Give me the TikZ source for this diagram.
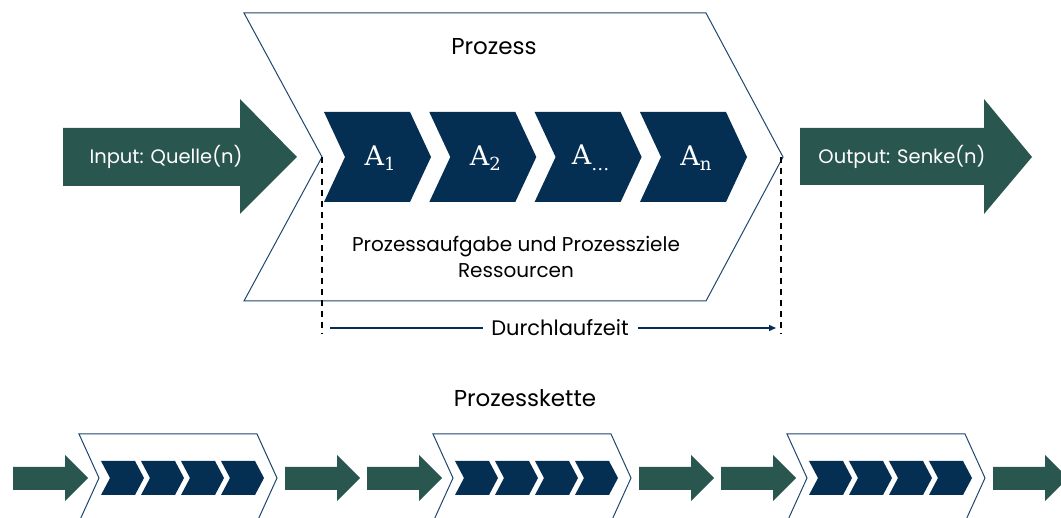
\documentclass[tikz,border=0pt]{standalone}
\usepackage{fontspec}
\setmainfont{Poppins}
\newfontfamily\slabfont{DejaVu Serif}
\usetikzlibrary{arrows.meta}
\definecolor{pgreen}{RGB}{42,86,80}
\definecolor{pnavy}{RGB}{4,46,82}
\definecolor{pline}{RGB}{31,72,112}
\tikzset{
  greenarrow/.style={fill=pgreen,draw=none},
  navybox/.style={fill=pnavy,draw=none},
  procoutline/.style={draw=pline,line width=1pt,fill=white},
  lbl/.style={inner sep=0pt,font=\fontsize{20}{24}\selectfont},
  biglbl/.style={inner sep=0pt,font=\fontsize{23}{26}\selectfont},
  wlbl/.style={inner sep=0pt,text=white,font=\fontsize{19.5}{22}\selectfont},
  alabel/.style={inner sep=0pt,text=white,font=\slabfont\fontsize{27}{27}\selectfont},
  dashline/.style={draw=black,line width=1.3pt,dash pattern=on 6pt off 5pt},
  timeline/.style={draw=pnavy,line width=1.3pt}
}
\newcommand{\asub}[1]{A\raisebox{-0.4ex}{\fontsize{18}{18}\selectfont #1}}
\begin{document}
\begin{tikzpicture}[x=1pt,y=-1pt]
\useasboundingbox (0,0) rectangle (1061,518);
\clip (0,0) rectangle (1061,518);
\fill[white] (0,0) rectangle (1061,518);
% big process chevron
\draw[procoutline] (244,13) -- (706,13) -- (783,157) -- (706,301) -- (244,301) -- (322,157) -- cycle;
\node[biglbl] (prozess) at (494,47) {Prozess};
% task boxes
\foreach \x/\t [count=\i] in {324/\asub{1},429.3/\asub{2},534.6/\asub{\dots},640/\asub{n}}{
  \fill[navybox] (\x,112) -- (\x+86,112) -- (\x+107,157) -- (\x+86,202) -- (\x,202) -- (\x+21,157) -- cycle;
  \node[alabel] (a\i) at (\x+56,158) {\t};
}
\node[lbl] (aufgabe) at (516,247) {Prozessaufgabe und Prozessziele};
\node[lbl] (ress) at (516,271) {Ressourcen};
% input / output arrows
\fill[greenarrow] (63,128) -- (240,128) -- (240,99) -- (297,157) -- (240,214) -- (240,186) -- (63,186) -- cycle;
\node[wlbl] (input) at (166,157) {Input: Quelle(n)};
\fill[greenarrow] (800,128) -- (984,128) -- (984,99) -- (1032,157) -- (984,214) -- (984,185) -- (800,185) -- cycle;
\node[wlbl] (output) at (902,157) {Output: Senke(n)};
% lead time
\coordinate (ds) at (322,157);
\coordinate (de) at (322,334);
\coordinate (es) at (781,157);
\coordinate (ee) at (781,334);
\draw[dashline] (ds) -- (de);
\draw[dashline] (es) -- (ee);
\node[lbl,font=\fontsize{21}{24}\selectfont] (dlz) at (560,328) {Durchlaufzeit};
\coordinate (tl) at (330,328);
\coordinate (tr) at (776,328);
\draw[timeline] (tl) -- ([xshift=-8pt]dlz.west);
\draw[timeline,-{Triangle[length=7pt,width=6pt]}] ([xshift=9pt]dlz.east) -- (tr);
% process chain
\node[biglbl] (kette) at (525,398) {Prozesskette};
\foreach \xo in {79,433,787}{
  \fill[greenarrow] (\xo-66,467) -- (\xo-14,467) -- (\xo-14,455) -- (\xo+9,478) -- (\xo-14,501) -- (\xo-14,490) -- (\xo-66,490) -- cycle;
  \draw[procoutline] (\xo,434) -- (\xo+178,434) -- (\xo+198,478) -- (\xo+178,522) -- (\xo,522) -- (\xo+20,478) -- cycle;
  \foreach \j in {0,1,2,3}{
    \fill[navybox] (\xo+22+40*\j,461) -- (\xo+56+40*\j,461) -- (\xo+65+40*\j,478) -- (\xo+56+40*\j,495) -- (\xo+22+40*\j,495) -- (\xo+31+40*\j,478) -- cycle;
  }
  \fill[greenarrow] (\xo+206,467) -- (\xo+258,467) -- (\xo+258,455) -- (\xo+281,478) -- (\xo+258,501) -- (\xo+258,490) -- (\xo+206,490) -- cycle;
}
\end{tikzpicture}
\end{document}
